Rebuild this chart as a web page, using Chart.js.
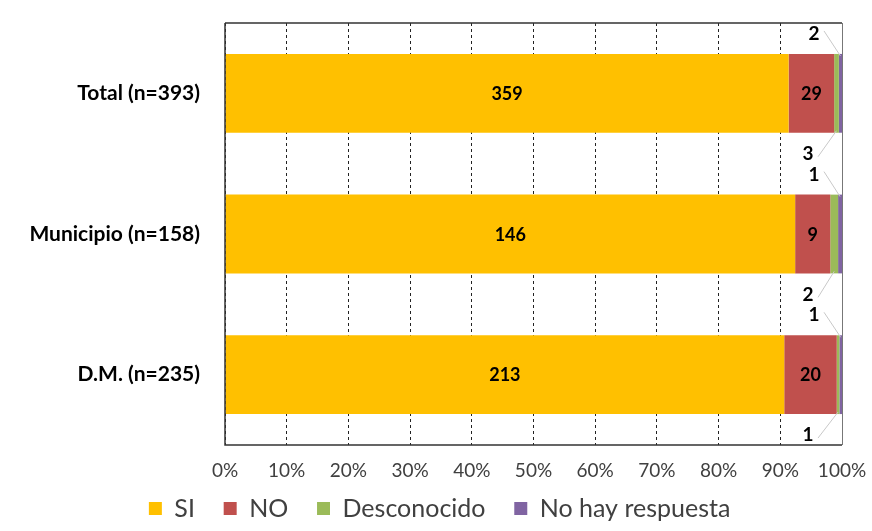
<!DOCTYPE html>
<html>
<head>
<meta charset="utf-8">
<script src="https://cdn.jsdelivr.net/npm/chart.js@4/dist/chart.umd.min.js"></script>
<style>
  html, body { margin: 0; padding: 0; background: #fff; }
  #wrap { width: 872px; height: 531px; }
</style>
</head>
<body>
<div id="wrap"><canvas id="respChart" width="872" height="531"></canvas></div>
<script>
const categories = ['Total (n=393)', 'Municipio (n=158)', 'D.M. (n=235)'];
const si = [359, 146, 213];
const no = [29, 9, 20];
const desconocido = [3, 2, 1];
const noRespuesta = [2, 1, 1];
const tickLabels = ['0%', '10%', '20%', '30%', '40%', '50%', '60%', '70%', '80%', '90%', '100%'];

const seriesNames = ['SI', 'NO', 'Desconocido', 'No hay respuesta'];
const seriesColors = ['#FFC000', '#C0504D', '#9BBB59', '#8064A2'];
const series = [si, no, desconocido, noRespuesta];
const totals = categories.map((c, i) => series.reduce((s, arr) => s + arr[i], 0));

// small segments get their labels outside the bar: green below, purple above
const outside = { 2: 'below', 3: 'above' };
const FONT = 'Lato, "Open Sans", sans-serif';

const labelPlugin = {
    id: 'segLabels',
    afterDatasetsDraw(chart) {
        const ctx = chart.ctx;
        const area = chart.chartArea;
        ctx.save();
        ctx.textAlign = 'center';
        ctx.textBaseline = 'middle';
        ctx.fillStyle = '#000';
        chart.data.datasets.forEach((ds, di) => {
            const meta = chart.getDatasetMeta(di);
            meta.data.forEach((bar, j) => {
                const val = series[di][j];
                const cx = (bar.x + bar.base) / 2;
                if (outside[di]) {
                    const h = bar.height;
                    const up = outside[di] === 'above';
                    const ty = up ? bar.y - h / 2 - 20 : bar.y + h / 2 + 21;
                    const tx = up ? area.right - 28 : area.right - 34;
                    ctx.strokeStyle = '#c8c8c8';
                    ctx.lineWidth = 1;
                    ctx.beginPath();
                    if (up) {
                        ctx.moveTo(tx + 10, ty - 3);
                        ctx.lineTo(cx, bar.y - h / 2 + 2);
                    } else {
                        ctx.moveTo(tx + 10, ty + 3);
                        ctx.lineTo(cx, bar.y + h / 2 - 2);
                    }
                    ctx.stroke();
                    ctx.font = 'bold 19px ' + FONT;
                    ctx.fillText(String(val), tx, ty);
                } else {
                    ctx.font = 'bold 18px ' + FONT;
                    ctx.fillText(String(val), cx, bar.y + 1);
                }
            });
        });
        ctx.restore();
    }
};

const framePlugin = {
    id: 'frame',
    afterLayout(chart) {
        // nudge the legend a bit to the right, like the original
        if (chart.legend) {
            chart.legend.left += 28;
            chart.legend.right += 28;
        }
    },
    afterDraw(chart) {
        const a = chart.chartArea;
        const ctx = chart.ctx;
        ctx.save();
        ctx.lineWidth = 1.5;
        ctx.strokeStyle = '#333';
        ctx.beginPath();
        ctx.moveTo(a.left, a.top);
        ctx.lineTo(a.right, a.top);
        ctx.moveTo(a.left, a.top);
        ctx.lineTo(a.left, a.bottom);
        ctx.lineTo(a.right, a.bottom);
        ctx.stroke();
        ctx.strokeStyle = '#777';
        ctx.lineWidth = 1;
        ctx.beginPath();
        ctx.moveTo(a.right + 0.5, a.top);
        ctx.lineTo(a.right + 0.5, a.bottom);
        ctx.stroke();
        ctx.restore();
    }
};

const ctx = document.getElementById('respChart').getContext('2d');
const respChart = new Chart(ctx, {
    type: 'bar',
    data: {
        labels: categories,
        datasets: series.map((arr, i) => ({
            label: seriesNames[i],
            data: arr.map((v, j) => v / totals[j] * 100),
            backgroundColor: seriesColors[i],
            borderWidth: 0,
            categoryPercentage: 1,
            barPercentage: 0.56
        }))
    },
    options: {
        indexAxis: 'y',
        responsive: false,
        maintainAspectRatio: false,
        animation: false,
        layout: { padding: { top: 23, right: 30, left: 0, bottom: 0 } },
        scales: {
            x: {
                stacked: true,
                min: 0,
                max: 100,
                border: { display: false, dash: [3, 3] },
                grid: {
                    color: '#222',
                    lineWidth: 1,
                    drawTicks: true,
                    tickLength: 14,
                    tickColor: 'rgba(0,0,0,0)'
                },
                ticks: {
                    stepSize: 10,
                    padding: 0,
                    color: '#404040',
                    font: { family: FONT, size: 19 },
                    callback: (v, i) => tickLabels[i]
                },
                afterFit: s => { s.height = 41; }
            },
            y: {
                stacked: true,
                border: { display: false },
                grid: {
                    drawOnChartArea: false,
                    drawTicks: true,
                    tickLength: 25,
                    tickColor: 'rgba(0,0,0,0)'
                },
                ticks: {
                    padding: 0,
                    color: '#000',
                    font: { family: FONT, size: 21, weight: 'bold' }
                },
                afterFit: s => { s.width = 225; }
            }
        },
        plugins: {
            legend: {
                position: 'bottom',
                labels: {
                    boxWidth: 13,
                    boxHeight: 13,
                    padding: 10,
                    color: '#404040',
                    font: { family: FONT, size: 25 },
                    generateLabels: chart => Chart.defaults.plugins.legend.labels.generateLabels(chart)
                        .map(l => Object.assign(l, { text: l.text + '\u2003' }))
                }
            },
            tooltip: { enabled: false }
        }
    },
    plugins: [labelPlugin, framePlugin]
});
</script>
</body>
</html>
